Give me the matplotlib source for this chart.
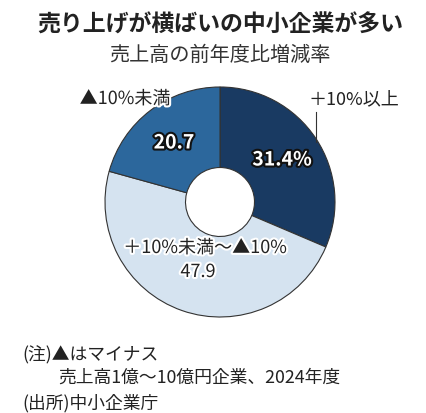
import matplotlib
matplotlib.use('Agg')
import matplotlib.pyplot as plt
import matplotlib.patheffects as pe

plt.rcParams['font.family'] = ['Noto Sans CJK JP', 'DejaVu Sans']

categories = ['＋10%以上', '＋10%未満〜▲10%', '▲10%未満']
shares = [31.4, 47.9, 20.7]
colors = ['#193a62', '#d5e3f0', '#2c679c']

W, H = 427, 413
fig = plt.figure(figsize=(W / 100, H / 100), dpi=100)
ax = fig.add_axes([0, 0, 1, 1])

cx, cy, r = 220, H - 202, 115
ax.pie(shares, colors=colors, startangle=90, counterclock=False,
       center=(cx, cy), radius=r, frame=True,
       wedgeprops=dict(width=r * 0.70, edgecolor='#333333', linewidth=0.8))
ax.set_xlim(0, W)
ax.set_ylim(0, H)
ax.set_aspect('equal')
ax.axis('off')

def py(y):
    return H - y

fig.text(220 / W, 1 - 25 / H, '売り上げが横ばいの中小企業が多い', ha='center', va='center',
         fontsize=16.5, fontweight='bold', color='#222222')
fig.text(220 / W, 1 - 55 / H, '売上高の前年度比増減率', ha='center', va='center',
         fontsize=14.5, color='#333333')

outline = [pe.withStroke(linewidth=3, foreground='#111111')]
halo = [pe.withStroke(linewidth=3, foreground='white')]

# values inside the wedges
ax.text(282, py(160), f'{shares[0]}%', ha='center', va='center', fontsize=14,
        fontweight='bold', color='white', path_effects=outline)
ax.text(174, py(143), f'{shares[2]}', ha='center', va='center', fontsize=14,
        fontweight='bold', color='white', path_effects=outline)
ax.text(205, py(248), categories[1], ha='center', va='center', fontsize=13,
        color='#222222', path_effects=halo)
ax.text(198, py(272), f'{shares[1]}', ha='center', va='center', fontsize=13,
        color='#222222', path_effects=halo)

# outside labels
ax.text(125, py(99), categories[2], ha='center', va='center', fontsize=13,
        color='#222222', path_effects=halo)
ax.text(354, py(99), categories[0], ha='center', va='center', fontsize=13,
        color='#222222')
ax.plot([316, 316], [py(112), py(142)], color='#333333', linewidth=0.8)

# notes
fig.text(22 / W, 1 - 355 / H, '(注)▲はマイナス', ha='left', va='center',
         fontsize=12.8, color='#222222')
fig.text(58 / W, 1 - 378 / H, '売上高1億〜10億円企業、2024年度', ha='left', va='center',
         fontsize=12.8, color='#222222')
fig.text(22 / W, 1 - 403 / H, '(出所)中小企業庁', ha='left', va='center',
         fontsize=12.8, color='#222222')

fig.savefig('out.png', dpi=100, facecolor='white')
